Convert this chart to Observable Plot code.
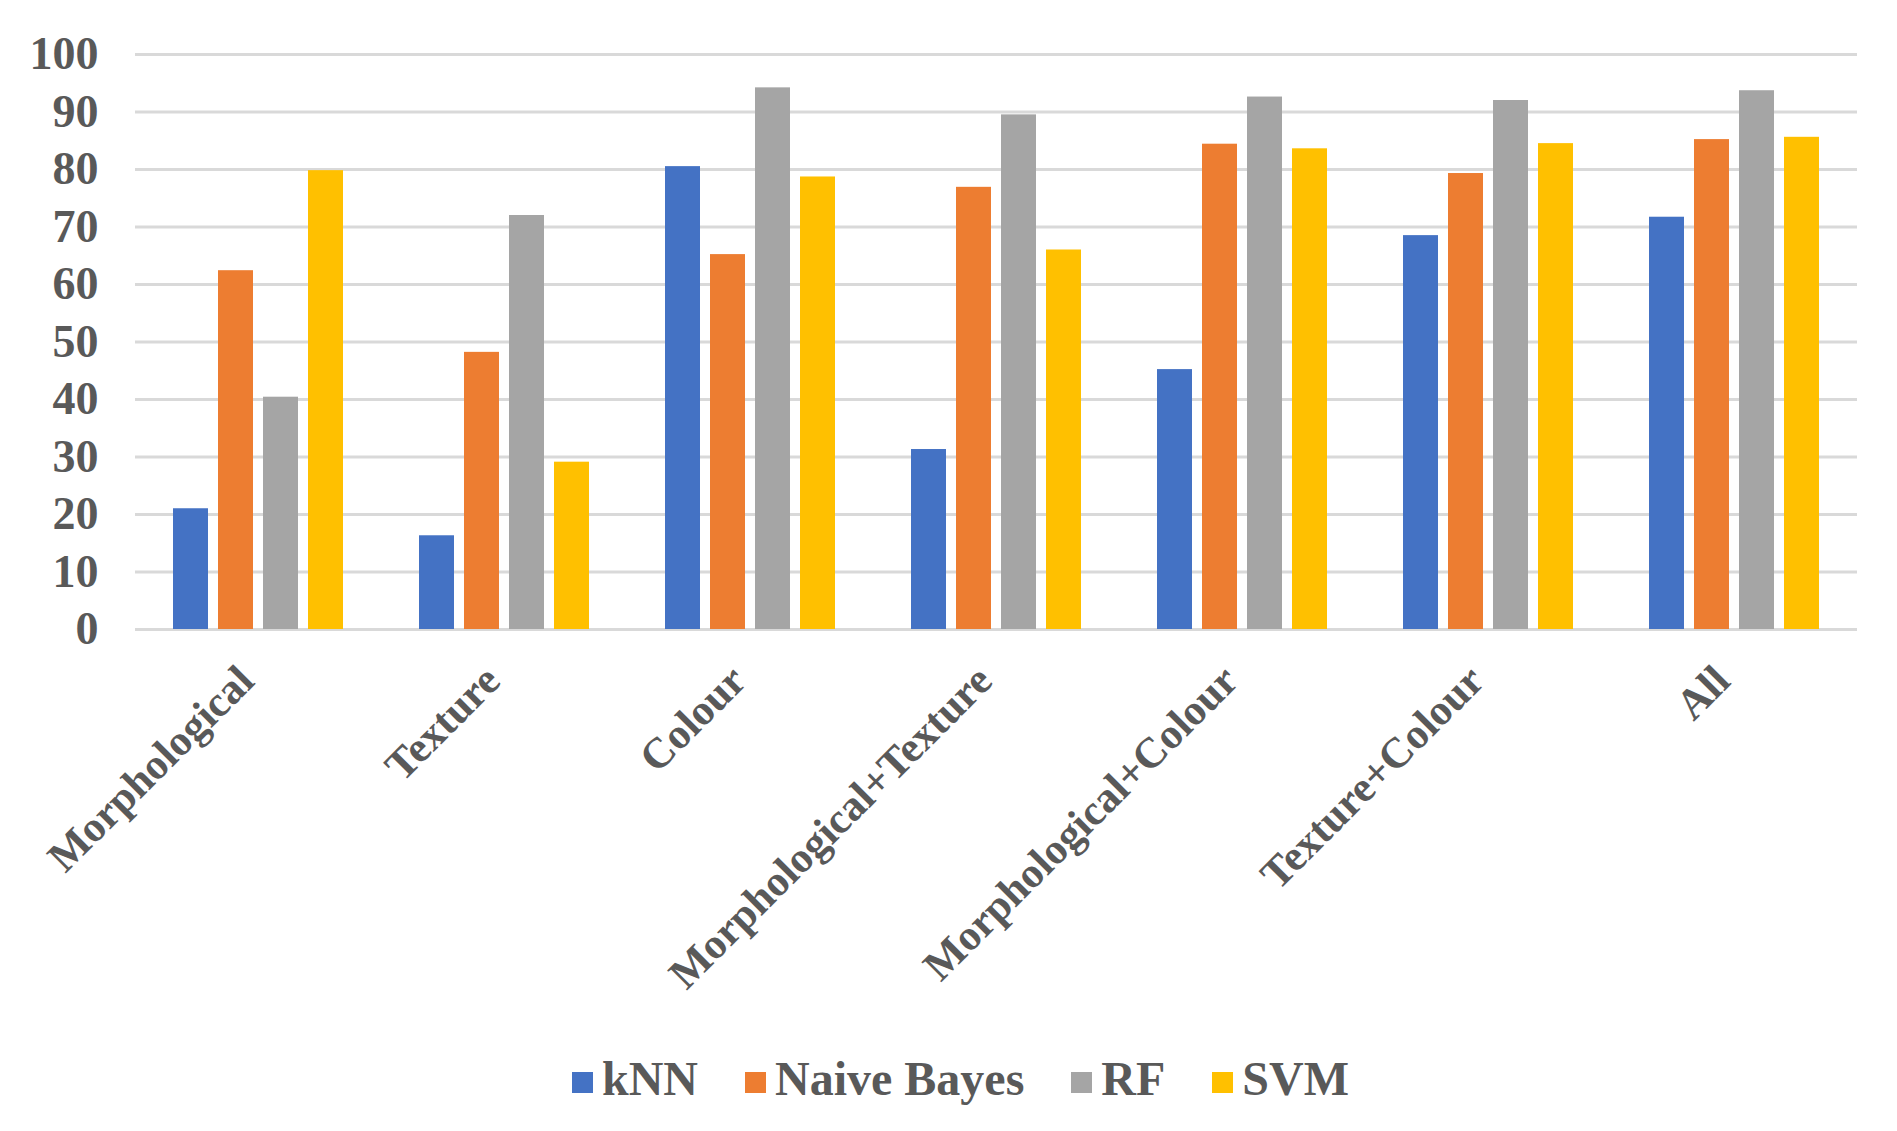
<!DOCTYPE html>
<html>
<head>
<meta charset="utf-8">
<script src="https://cdn.jsdelivr.net/npm/d3@7"></script>
<script src="https://cdn.jsdelivr.net/npm/@observablehq/plot@0.6"></script>
<style>
  html, body { margin: 0; padding: 0; background: #fff; }
  #wrap { position: relative; width: 1897px; height: 1131px; overflow: hidden; }
  #legend { position: absolute; left: 572px; top: 1055px; display: flex; align-items: center;
    font-family: "Liberation Serif", "DejaVu Serif", serif; font-weight: bold; font-size: 48px;
    line-height: 48px; color: #595959; white-space: nowrap; }
  .item { display: flex; align-items: center; margin-right: 47px; }
  .item:last-child { margin-right: 0; }
  .sw { width: 21px; height: 21px; margin-right: 9px; position: relative; top: 3px; }
</style>
</head>
<body>
<div id="wrap"><div id="chart"></div><div id="legend"></div></div>
<script>
const categories = ["Morphological", "Texture", "Colour", "Morphological+Texture", "Morphological+Colour", "Texture+Colour", "All"];
const models = ["kNN", "Naive Bayes", "RF", "SVM"];
const colors = ["#4472C4", "#ED7D31", "#A5A5A5", "#FFC000"];
const knn = [21.0, 16.3, 80.5, 31.3, 45.2, 68.5, 71.7];
const naiveBayes = [62.4, 48.2, 65.2, 76.9, 84.4, 79.3, 85.2];
const rf = [40.4, 72.0, 94.2, 89.5, 92.6, 92.0, 93.7];
const svm = [79.8, 29.1, 78.7, 66.0, 83.6, 84.5, 85.6];
const yTicks = [0, 10, 20, 30, 40, 50, 60, 70, 80, 90, 100];

const series = [knn, naiveBayes, rf, svm];
const data = [];
categories.forEach((c, i) => {
  models.forEach((m, j) => data.push({category: c, model: m, value: series[j][i]}));
});

const chart = Plot.plot({
  width: 1897,
  height: 1040,
  marginTop: 54,
  marginBottom: 411,
  marginLeft: 135,
  marginRight: 40,
  style: {
    fontFamily: '"Liberation Serif", "DejaVu Serif", serif',
    fontWeight: "bold",
    fontSize: "46px",
    color: "#595959",
    background: "#fff",
    overflow: "visible"
  },
  fx: {domain: categories, padding: 0, label: null},
  x: {domain: models, paddingInner: 0.22, paddingOuter: 0.84, axis: null},
  y: {domain: [0, 100], ticks: yTicks, tickSize: 0, tickPadding: 37, label: null},
  color: {domain: models, range: colors},
  marks: [
    Plot.ruleY(yTicks, {stroke: "#d9d9d9", strokeWidth: 3}),
    Plot.barY(data, {fx: "category", x: "model", y: "value", fill: "model"}),
    Plot.axisFx({anchor: "bottom", tickRotate: -45, tickSize: 0, tickPadding: 20, dx: -12, dy: 24, fontSize: 43, label: null})
  ]
});
document.getElementById("chart").appendChild(chart);

const legend = document.getElementById("legend");
models.forEach((m, i) => {
  const item = document.createElement("div");
  item.className = "item";
  const sw = document.createElement("div");
  sw.className = "sw";
  sw.style.background = colors[i];
  const t = document.createElement("span");
  t.textContent = m;
  item.appendChild(sw);
  item.appendChild(t);
  legend.appendChild(item);
});
</script>
</body>
</html>
